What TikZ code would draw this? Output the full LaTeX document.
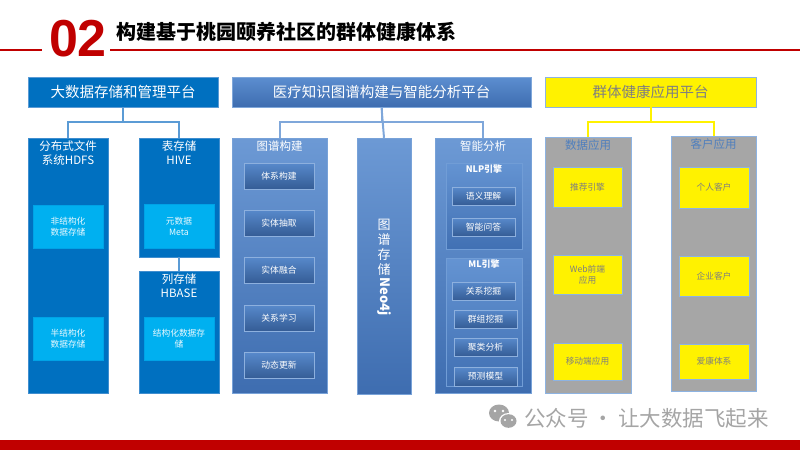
\documentclass[tikz,border=0pt]{standalone}
\usepackage{fontspec}
\setmainfont{Noto Sans CJK SC}
\newfontfamily\numfont{Liberation Sans}
\usetikzlibrary{positioning}
\definecolor{hdred}{HTML}{C00000}
\definecolor{dblue}{HTML}{0070C0}
\definecolor{cyanbox}{HTML}{00B0F0}
\definecolor{linkblue}{HTML}{5B9BD5}
\definecolor{kgtop}{HTML}{5C8ED0}
\definecolor{kgbot}{HTML}{3E6DB0}
\definecolor{kgline}{HTML}{7FA7DA}
\definecolor{appgray}{HTML}{A6A6A6}
\definecolor{appline}{HTML}{8DB3E2}
\definecolor{apptext}{HTML}{7F7F7F}
\definecolor{apptitle}{HTML}{4F7FBE}
\definecolor{markgray}{HTML}{A5A5A5}
\tikzset{
  storetop/.style={fill=dblue, draw=linkblue, inner sep=0pt, text=white, font=\fontsize{14.5}{17}\selectfont},
  storecol/.style={fill=dblue, draw=linkblue!70!dblue, inner sep=0pt},
  storeitem/.style={fill=cyanbox, draw=cyanbox!80!dblue, inner sep=0pt, align=center, text=white!92!cyanbox, font=\fontsize{8.7}{11}\selectfont},
  coltitle/.style={inner sep=1pt, align=center, text=white, font=\fontsize{11.5}{14}\selectfont},
  storelink/.style={draw=linkblue, line width=2pt},
  kgtopbox/.style={top color=kgtop, bottom color=kgbot, draw=kgline, inner sep=0pt, text=white, font=\fontsize{14.5}{17}\selectfont},
  kgcol/.style={top color=kgtop!90!white, bottom color=kgbot, draw=kgline!80!kgtop, inner sep=0pt},
  kgsub/.style={top color=kgtop!95!white, bottom color=kgbot!90!kgtop, draw=kgline!60!kgtop, inner sep=0pt},
  kgitem/.style={top color=kgtop!85!kgbot, bottom color=kgbot!85!black, draw=kgtop!70!white, inner sep=0pt, align=center, text=white, font=\fontsize{8.8}{11}\selectfont},
  kglink/.style={draw=kgline, line width=2pt},
  neotext/.style={inner sep=1pt, align=center, text=white, font=\fontsize{13}{15}\selectfont},
  apptop/.style={fill=yellow, draw=appline, inner sep=0pt, text=apptext, font=\fontsize{14.5}{17}\selectfont},
  appcol/.style={fill=appgray, draw=appline, line width=0.8pt, inner sep=0pt},
  appitem/.style={fill=yellow, draw=appline, inner sep=0pt, align=center, text=apptext, font=\fontsize{8.7}{11}\selectfont},
  apptitlet/.style={inner sep=1pt, text=apptitle, font=\fontsize{11.5}{14}\selectfont},
  applink/.style={draw=yellow, line width=2pt}
}
\begin{document}
\begin{tikzpicture}[x=1pt,y=-1pt]
\useasboundingbox (0,0) rectangle (800,450);
\draw[hdred, line width=1.5pt] (0,50) -- (42,50);
\draw[hdred, line width=1.5pt] (110,50) -- (800,50);
\node[text=hdred, inner sep=0pt, font=\numfont\bfseries\fontsize{52}{52}\selectfont] (num) at (78,38.5) {02};
\node[anchor=west, inner sep=0pt, font=\bfseries\fontsize{20}{22}\selectfont] (title) at (116,32) {构建基于桃园颐养社区的群体健康体系};
\fill[hdred] (0,440) rectangle (800,450);

\node[storetop, minimum width=190pt, minimum height=30pt] (bigdata) at (123,92) {大数据存储和管理平台};
\node[storecol, minimum width=80pt, minimum height=255pt] (hdfs) at (68,265.5) {};
\node[coltitle, below=2pt of hdfs.north] (hdfst) {分布式文件\\系统HDFS};
\node[storeitem, minimum width=70pt, minimum height=43pt] (unstr) at (68,226.5) {非结构化\\数据存储};
\node[storeitem, minimum width=70pt, minimum height=43pt] (semi) at (68,338.5) {半结构化\\数据存储};
\node[storecol, minimum width=80pt, minimum height=119pt] (hive) at (179,197.5) {};
\node[coltitle, below=2pt of hive.north] (hivet) {表存储\\HIVE};
\node[storeitem, minimum width=70pt, minimum height=44pt] (meta) at (179,226) {元数据\\Meta};
\node[storecol, minimum width=80pt, minimum height=122pt] (hbase) at (179,332) {};
\node[coltitle, below=2pt of hbase.north] (hbaset) {列存储\\HBASE};
\node[storeitem, minimum width=70pt, minimum height=43pt] (struct) at (179,338.5) {结构化数据存\\储};
\draw[storelink] (bigdata.south) -- ++(0,15) -| (hdfs.north);
\draw[storelink] (bigdata.south) -- ++(0,15) -| (hive.north);
\draw[storelink] (hive.south) -- (hbase.north);

\node[kgtopbox, minimum width=299pt, minimum height=30pt] (kg) at (381.5,92) {医疗知识图谱构建与智能分析平台};
\node[kgcol, minimum width=95pt, minimum height=255pt] (build) at (279.5,265.5) {};
\node[coltitle, below=2pt of build.north] (buildt) {图谱构建};
\node[kgitem, minimum width=70pt, minimum height=26pt] (sys) at (279,176) {体系构建};
\node[kgitem, minimum width=70pt, minimum height=26pt] (extract) at (279,223) {实体抽取};
\node[kgitem, minimum width=70pt, minimum height=26pt] (fuse) at (279,270) {实体融合};
\node[kgitem, minimum width=70pt, minimum height=26pt] (learn) at (279,318) {关系学习};
\node[kgitem, minimum width=70pt, minimum height=26pt] (update) at (279,365.5) {动态更新};
\node[kgcol, minimum width=54pt, minimum height=256pt] (neo) at (384,266) {};
\node[neotext] (neot) at (384,247) {图\\谱\\存\\储};
\node[neotext, rotate=-90, anchor=west, font=\bfseries\fontsize{13}{15}\selectfont] (neoj) at (neot.south) {Neo4j};
\node[kgcol, minimum width=96pt, minimum height=255pt] (ana) at (483,265.5) {};
\node[coltitle, below=2pt of ana.north] (anat) {智能分析};
\node[kgsub, minimum width=76pt, minimum height=86pt] (nlp) at (484,206) {};
\node[coltitle, below=1pt of nlp.north, font=\bfseries\fontsize{9}{11}\selectfont] (nlpt) {NLP引擎};
\node[kgitem, minimum width=63pt, minimum height=18pt] (sem) at (483.5,196) {语义理解};
\node[kgitem, minimum width=63pt, minimum height=18pt] (qa) at (483.5,227) {智能问答};
\node[kgsub, minimum width=76pt, minimum height=128pt] (ml) at (484,322) {};
\node[coltitle, below=1pt of ml.north, font=\bfseries\fontsize{9}{11}\selectfont] (mlt) {ML引擎};
\node[kgitem, minimum width=63pt, minimum height=18pt] (relmine) at (483.5,291) {关系挖掘};
\node[kgitem, minimum width=63pt, minimum height=18pt] (group) at (485.5,319) {群组挖掘};
\node[kgitem, minimum width=63pt, minimum height=18pt] (cluster) at (485.5,347) {聚类分析};
\node[kgitem, minimum width=63pt, minimum height=19pt] (predict) at (485.5,376.5) {预测模型};
\draw[kglink] (kg.south) -- ++(0,15) -| (build.north);
\draw[kglink] (kg.south) -- ++(0,15) -| (ana.north);
\draw[kglink] (kg.south) -- (neo.north);

\node[apptop, minimum width=211pt, minimum height=30pt] (app) at (650.5,92) {群体健康应用平台};
\node[appcol, minimum width=86pt, minimum height=256pt] (data) at (588,265) {};
\node[apptitlet, below=2pt of data.north] (datat) {数据应用};
\node[appitem, minimum width=69pt, minimum height=40pt] (rec) at (587.5,187) {推荐引擎};
\node[appitem, minimum width=69pt, minimum height=39pt] (web) at (587.5,274.5) {Web前端\\应用};
\node[appitem, minimum width=69pt, minimum height=37pt] (mobile) at (587.5,361.5) {移动端应用};
\node[appcol, minimum width=85pt, minimum height=255pt] (cust) at (713.5,263.5) {};
\node[apptitlet, below=2pt of cust.north] (custt) {客户应用};
\node[appitem, minimum width=70pt, minimum height=41pt] (person) at (714,187.5) {个人客户};
\node[appitem, minimum width=70pt, minimum height=40pt] (company) at (714,276) {企业客户};
\node[appitem, minimum width=70pt, minimum height=35pt] (aikang) at (714,361.5) {爱康体系};
\draw[applink] (app.south) -- ++(0,15) -| (data.north);
\draw[applink] (app.south) -- ++(0,15) -| (cust.north);

\fill[markgray] (499,413) ellipse (10pt and 8.5pt);
\fill[white] (508.5,421) ellipse (9.5pt and 8pt);
\fill[markgray] (508.5,421) ellipse (8pt and 6.8pt);
\fill[white] (495,411) circle (1.3pt) (503,411) circle (1.3pt);
\fill[white] (505,420) circle (1.1pt) (512,420) circle (1.1pt);
\node[anchor=west, inner sep=0pt, text=markgray, font=\fontsize{21.5}{24}\selectfont] (mark) at (524,418) {公众号\hspace{4pt}·\hspace{4pt}让大数据飞起来};
\end{tikzpicture}
\end{document}
